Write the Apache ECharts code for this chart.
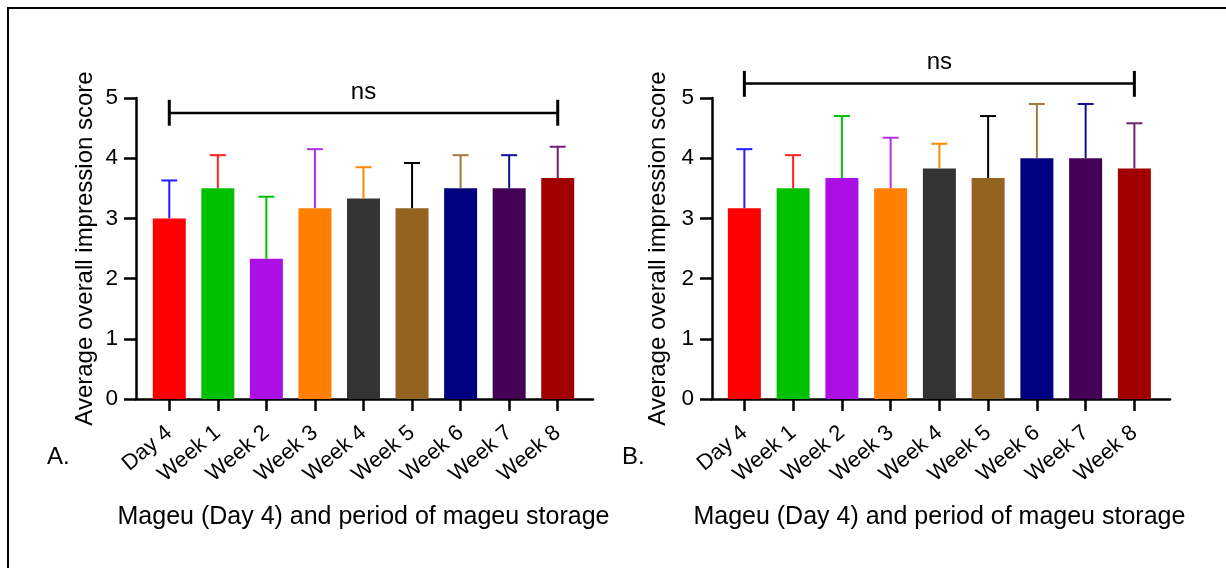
<html>
<head>
    <meta charset="utf-8">
    <title>Mageu overall impression</title>
    <script src="https://cdn.jsdelivr.net/npm/echarts@6/dist/echarts.min.js"></script>
</head>
<body style="margin:0;background:#fff;">
<div id="chartmain" style="width: 1226px; height: 568px;"></div>
</body>
<script type="text/javascript">
    // categories and values
    var categories = ['Day 4', 'Week 1', 'Week 2', 'Week 3', 'Week 4', 'Week 5', 'Week 6', 'Week 7', 'Week 8'];
    var meanA = [3.0, 3.5, 2.33, 3.17, 3.33, 3.17, 3.5, 3.5, 3.67];
    var sdA = [0.63, 0.55, 1.03, 0.98, 0.52, 0.75, 0.55, 0.55, 0.52];
    var meanB = [3.17, 3.5, 3.67, 3.5, 3.83, 3.67, 4.0, 4.0, 3.83];
    var sdB = [0.98, 0.55, 1.03, 0.84, 0.41, 1.03, 0.9, 0.9, 0.75];
    var yTicks = [0, 1, 2, 3, 4, 5];

    var barColors = ['#ff0000', '#00c000', '#ab0fe3', '#ff8000', '#333333', '#936320', '#000080', '#440055', '#a00000'];
    // error bars use the colour of the previous bar
    var errColors = ['#2020ff', '#ff2020', '#00c000', '#b030e8', '#ff8800', '#000000', '#a07840', '#101090', '#702070'];

    var FONT = 'Liberation Sans, Arial, sans-serif';
    var yTitle = 'Average overall impression score';
    var xTitle = 'Mageu (Day 4) and period of mageu storage';

    // significance brackets (value units)
    var bracketA = {from: 0, to: 8, y: 4.75, lo: 4.54, hi: 4.97, text: 'ns'};
    var bracketB = {from: 0, to: 8, y: 5.24, lo: 5.02, hi: 5.45, text: 'ns'};

    function errItem(colors) {
        return function (params, api) {
            var i = api.value(0), m = api.value(1), s = api.value(2);
            var p0 = api.coord([i, m]);
            var p1 = api.coord([i, m + s]);
            var c = colors[params.dataIndex];
            return {
                type: 'group',
                children: [
                    {type: 'line', shape: {x1: p0[0], y1: p0[1], x2: p1[0], y2: p1[1]}, style: {stroke: c, lineWidth: 2}},
                    {type: 'line', shape: {x1: p1[0] - 8, y1: p1[1], x2: p1[0] + 8, y2: p1[1]}, style: {stroke: c, lineWidth: 2}}
                ]
            };
        };
    }

    function bracketItem(params, api) {
        var a = api.coord([api.value(0), api.value(2)]);
        var b = api.coord([api.value(1), api.value(2)]);
        var lo = api.coord([api.value(0), api.value(3)])[1];
        var hi = api.coord([api.value(0), api.value(4)])[1];
        return {
            type: 'group',
            children: [
                {type: 'line', shape: {x1: a[0], y1: a[1], x2: b[0], y2: b[1]}, style: {stroke: '#000', lineWidth: 2.5}},
                {type: 'line', shape: {x1: a[0], y1: lo, x2: a[0], y2: hi}, style: {stroke: '#000', lineWidth: 3}},
                {type: 'line', shape: {x1: b[0], y1: lo, x2: b[0], y2: hi}, style: {stroke: '#000', lineWidth: 3}},
                {type: 'text', style: {text: 'ns', x: (a[0] + b[0]) / 2, y: a[1] - 9, align: 'center', verticalAlign: 'bottom',
                    font: '24px ' + FONT, fill: '#000'}}
            ]
        };
    }

    function frameAxes(gi, nameGap) {
        return {
            x: {gridIndex: gi, type: 'value', min: 0, max: 1, axisLine: {show: true, lineStyle: {color: '#000', width: 2.5}},
                axisTick: {show: false}, axisLabel: {show: false}, splitLine: {show: false}},
            y: {gridIndex: gi, type: 'value', min: 0, max: 5, interval: 1,
                axisLine: {show: true, lineStyle: {color: '#000', width: 2.5}},
                axisTick: {show: true, length: 12, lineStyle: {color: '#000', width: 2.5}},
                axisLabel: {margin: 18, fontSize: 22.5, fontFamily: FONT, color: '#000',
                    formatter: function (v) { return yTicks.indexOf(v) >= 0 ? String(v) : ''; }},
                splitLine: {show: false},
                name: yTitle, nameLocation: 'middle', nameGap: nameGap, nameRotate: 90,
                nameTextStyle: {fontSize: 24, fontFamily: FONT, color: '#000'}}
        };
    }

    function barAxes(gi) {
        return {
            x: {gridIndex: gi, type: 'category', data: categories, boundaryGap: true,
                axisLine: {show: false},
                axisTick: {show: true, alignWithLabel: true, length: 12, lineStyle: {color: '#000', width: 2.5}},
                axisLabel: {rotate: 40, margin: 31, fontSize: 22, fontFamily: FONT, color: '#000', interval: 0},
                name: xTitle, nameLocation: 'middle', nameGap: 106,
                nameTextStyle: {fontSize: 25, fontFamily: FONT, color: '#000'}},
            y: {gridIndex: gi, type: 'value', min: 0, max: 5, interval: 1, show: false}
        };
    }

    var fA = frameAxes(0, 39), fB = frameAxes(1, 42);
    var bA = barAxes(2), bB = barAxes(3);

    function barData(means) {
        return means.map(function (v, i) { return {value: v, itemStyle: {color: barColors[i]}}; });
    }
    function errData(means, sds) {
        return means.map(function (v, i) { return [i, v, sds[i]]; });
    }

    var myChart = echarts.init(document.getElementById('chartmain'));
    var option = {
        backgroundColor: '#fff',
        animation: false,
        grid: [
            {left: 136, top: 98, width: 457, height: 301},
            {left: 712, top: 98, width: 458, height: 301},
            {left: 145, top: 98, width: 437, height: 301},
            {left: 720, top: 98, width: 438.75, height: 301}
        ],
        xAxis: [fA.x, fB.x, bA.x, bB.x],
        yAxis: [fA.y, fB.y, bA.y, bB.y],
        series: [
            {type: 'bar', xAxisIndex: 2, yAxisIndex: 2, barWidth: 33, data: barData(meanA)},
            {type: 'bar', xAxisIndex: 3, yAxisIndex: 3, barWidth: 33, data: barData(meanB)},
            {type: 'custom', xAxisIndex: 2, yAxisIndex: 2, z: 3, renderItem: errItem(errColors), data: errData(meanA, sdA)},
            {type: 'custom', xAxisIndex: 3, yAxisIndex: 3, z: 3, renderItem: errItem(errColors), data: errData(meanB, sdB)},
            {type: 'custom', xAxisIndex: 2, yAxisIndex: 2, z: 3, renderItem: bracketItem,
                data: [[bracketA.from, bracketA.to, bracketA.y, bracketA.lo, bracketA.hi]]},
            {type: 'custom', xAxisIndex: 3, yAxisIndex: 3, z: 3, renderItem: bracketItem,
                data: [[bracketB.from, bracketB.to, bracketB.y, bracketB.lo, bracketB.hi]]}
        ],
        graphic: [
            {type: 'rect', shape: {x: 8, y: 8, width: 1240, height: 600}, style: {fill: 'none', stroke: '#000', lineWidth: 2}, silent: true},
            {type: 'text', x: 47, y: 457, style: {text: 'A.', font: '24px ' + FONT, fill: '#000', verticalAlign: 'middle'}},
            {type: 'text', x: 622, y: 457, style: {text: 'B.', font: '24px ' + FONT, fill: '#000', verticalAlign: 'middle'}}
        ]
    };
    myChart.setOption(option);
</script>
</html>
